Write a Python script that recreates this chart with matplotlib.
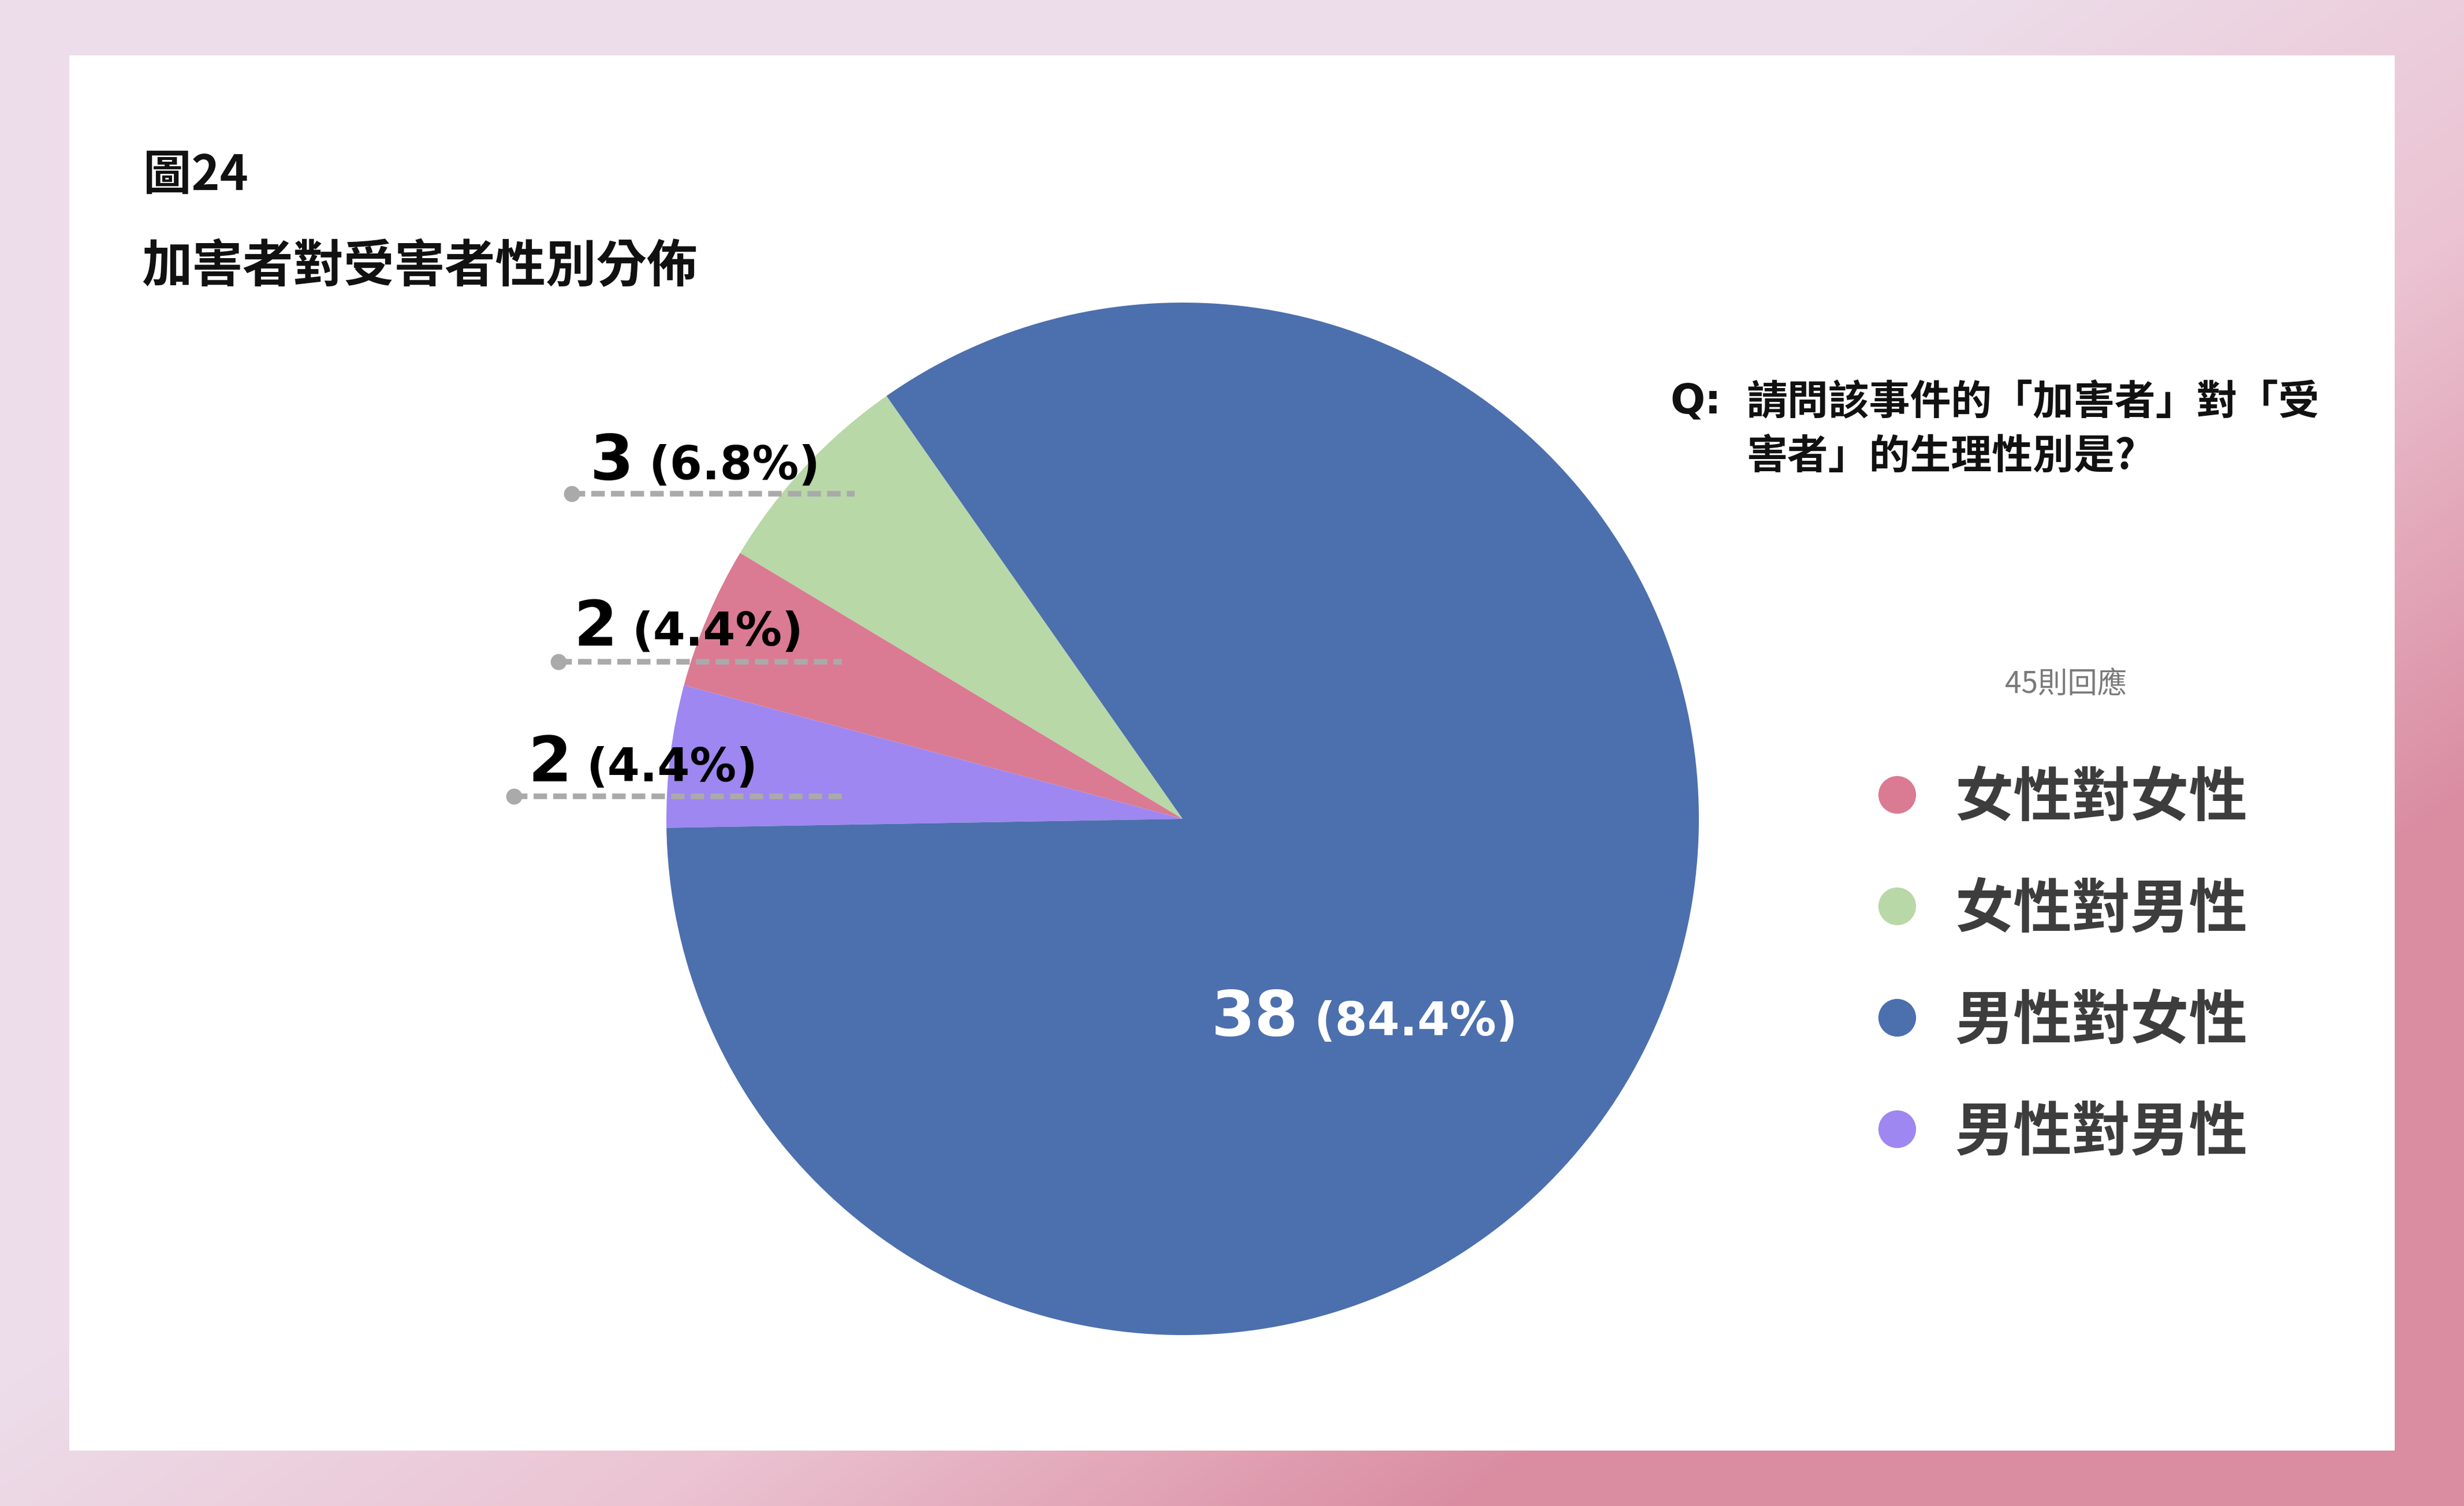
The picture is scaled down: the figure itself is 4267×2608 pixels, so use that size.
import numpy as np
import matplotlib
matplotlib.use("Agg")
import matplotlib.pyplot as plt
from matplotlib.colors import LinearSegmentedColormap
from matplotlib.patches import Rectangle

plt.rcParams['font.family'] = ['Noto Sans CJK TC', 'DejaVu Sans']

# data (legend order)
categories = ['女性對女性', '女性對男性', '男性對女性', '男性對男性']
counts = [2, 3, 38, 2]
percents = [4.4, 6.8, 84.4, 4.4]   # as printed on the chart
colors = ['#DB7A93', '#B8D8A7', '#4C6FAE', '#9E87F0']
total_responses = 45

# order in which the slices are laid out, counter-clockwise from the start angle
slice_order = [1, 0, 3, 2]

title_1 = '圖24'
title_2 = '加害者對受害者性別分佈'
question_1 = '請問該事件的「加害者」對「受'
question_2 = '害者」的生理性別是?'

W, H = 4267, 2608
fig = plt.figure(figsize=(W / 100, H / 100), dpi=100)

# background wash + white card
bg = fig.add_axes([0, 0, 1, 1], zorder=0)
gx, gy = np.meshgrid(np.linspace(0, 1, 400), np.linspace(0, 1, 250))
grad = np.clip(1.5 * gx + 1.3 * gy - 1.2, 0, 1)
cmap = LinearSegmentedColormap.from_list('wash', ['#EDDDEA', '#EBC3D2', '#DA8CA1'])
bg.imshow(grad, cmap=cmap, extent=(0, W, H, 0), aspect='auto', interpolation='bilinear')
bg.add_patch(Rectangle((120, 96), 4147 - 120, 2512 - 96, facecolor='white', edgecolor='none'))
bg.set_xlim(0, W)
bg.set_ylim(H, 0)
bg.axis('off')

# pie
cx, cy, r = 2048, 1418, 894
ax = fig.add_axes([(cx - r) / W, (H - cy - r) / H, 2 * r / W, 2 * r / H], zorder=1)
ax.pie([counts[i] for i in slice_order], colors=[colors[i] for i in slice_order],
       startangle=125, counterclock=True, radius=1, wedgeprops=dict(linewidth=0))
ax.set_xlim(-1, 1)
ax.set_ylim(-1, 1)
ax.axis('off')

# overlay in pixel coordinates (y downwards)
ov = fig.add_axes([0, 0, 1, 1], zorder=3)
ov.set_xlim(0, W)
ov.set_ylim(H, 0)
ov.axis('off')
ov.patch.set_alpha(0)

renderer = fig.canvas.get_renderer()


def value_label(idx, x, y, color):
    t = ov.text(x, y, str(counts[idx]), fontsize=78, fontweight='bold', family='DejaVu Sans',
                color=color, va='baseline', ha='left')
    w = t.get_window_extent(renderer=renderer).width
    ov.text(x + w + 26, y, f'({percents[idx]:.1f}%)', fontsize=58, fontweight='bold',
            family='DejaVu Sans', color=color, va='baseline', ha='left')


# outside labels with dashed leaders: (category index, text x, baseline, line y, line x0, line x1)
outside = [
    (1, 1022, 830, 855, 990, 1480),
    (0, 993, 1118, 1146, 967, 1458),
    (3, 914, 1353, 1379, 890, 1458),
]
for idx, tx, ty, ly, lx0, lx1 in outside:
    value_label(idx, tx, ty, 'black')
    ov.plot([lx0, lx1], [ly, ly], color='#AAAAAA', lw=7, dashes=(2.4, 1.1),
            solid_capstyle='butt', dash_capstyle='butt')
    ov.plot([lx0], [ly], 'o', color='#AAAAAA', markersize=20, markeredgewidth=0)

value_label(2, 2098, 1793, 'white')

# titles
ov.text(248, 329, title_1, fontsize=60, fontweight='bold', color='#111111', va='baseline')
ov.text(245, 488, title_2, fontsize=63, fontweight='bold', color='#111111', va='baseline')

# question
ov.text(2893, 696, 'Q:', fontsize=51, fontweight='bold', color='#111111', va='center',
        family=['DejaVu Sans', 'Noto Sans CJK TC'])
ov.text(3024, 696, question_1, fontsize=51, fontweight='bold', color='#111111', va='center')
ov.text(3024, 791, question_2, fontsize=51, fontweight='bold', color='#111111', va='center')

# response count
ov.text(3578, 1185, f'{total_responses}則回應', fontsize=37, color='#7A7A7A',
        va='center', ha='center')

# legend
leg_y0, leg_step = 1376, 193
for i, (cat, col) in enumerate(zip(categories, colors)):
    y = leg_y0 + i * leg_step
    ov.plot([3285], [y], 'o', color=col, markersize=47, markeredgewidth=0)
    ov.text(3385, y + 7, cat, fontsize=73, fontweight='bold', color='#3D3D3D', va='center')

fig.savefig('out.png', dpi=100)
